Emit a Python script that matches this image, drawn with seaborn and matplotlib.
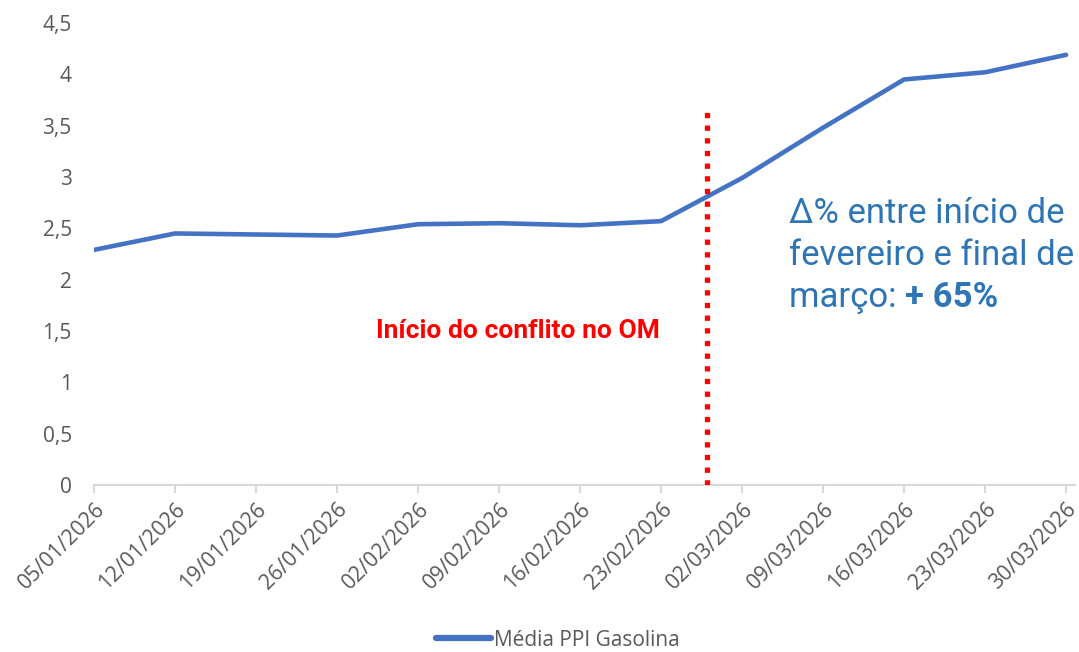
import matplotlib
matplotlib.use("Agg")
import matplotlib.pyplot as plt
import seaborn as sns
import pandas as pd
from matplotlib.lines import Line2D

dates = ["05/01/2026", "12/01/2026", "19/01/2026", "26/01/2026", "02/02/2026",
         "09/02/2026", "16/02/2026", "23/02/2026", "02/03/2026", "09/03/2026",
         "16/03/2026", "23/03/2026", "30/03/2026"]
ppi_gasolina = [2.29, 2.45, 2.44, 2.43, 2.54, 2.55, 2.53, 2.57, 2.99, 3.48, 3.95, 4.02, 4.19]
y_ticks = [0, 0.5, 1, 1.5, 2, 2.5, 3, 3.5, 4, 4.5]
y_tick_labels = ["0", "0,5", "1", "1,5", "2", "2,5", "3", "3,5", "4", "4,5"]
conflict_pos = 7.57
conflict_top = 3.65
note_lines = ["Δ% entre início de", "fevereiro e final de", "março: "]
note_bold = "+ 65%"

sns.set_theme(style="white")
plt.rcParams['font.family'] = ['Open Sans', 'DejaVu Sans']

df = pd.DataFrame({"idx": range(len(dates)), "valor": ppi_gasolina})

fig = plt.figure(figsize=(10.79, 6.52), dpi=100)
ax = fig.add_axes([94/1079, 1-485/652, (1075-94)/1079, (485-23)/652])

blue = "#4472C4"
sns.lineplot(data=df, x="idx", y="valor", ax=ax, color=blue, linewidth=3.3,
             solid_capstyle="round", legend=False)

ax.set_xlim(0, 12.11)
ax.set_ylim(0, 4.5)
ax.set_xticks(range(len(dates)))
ax.set_xticklabels(dates, rotation=45, ha="right", rotation_mode="anchor",
                   fontsize=15.3, color="#595959")
ax.set_yticks(y_ticks)
ax.set_yticklabels(y_tick_labels, fontsize=15, color="#595959")
ax.set_xlabel("")
ax.set_ylabel("")

for s in ["top", "right", "left"]:
    ax.spines[s].set_visible(False)
ax.spines["bottom"].set_color("#D9D9D9")
ax.spines["bottom"].set_linewidth(1.5)
ax.tick_params(axis="x", which="both", bottom=True, length=6, width=1.5,
               color="#D9D9D9", pad=4)
ax.tick_params(axis="y", length=0, pad=16)
ax.grid(False)

# conflict marker
ax.plot([conflict_pos, conflict_pos], [0, conflict_top], color="#FF0000",
        linewidth=3.8, linestyle=(0, (1.0, 1.4)), dash_capstyle="butt", zorder=3)

ax.text(5.23, 1.432, "Início do conflito no OM", color="#FF0000", fontsize=19,
        fontweight="bold", family=["Roboto", "DejaVu Sans"], ha="center", va="baseline")

note_color = "#2E75B6"
note_x = 8.58
note_y = [2.552, 2.143, 1.734]
last = None
for txt, yy in zip(note_lines, note_y):
    last = ax.text(note_x, yy, txt, color=note_color, fontsize=25,
                   family=["Roboto", "DejaVu Sans"], ha="left", va="baseline")
fig.canvas.draw()
bb = last.get_window_extent()
x_end = ax.transData.inverted().transform((bb.x1, bb.y0))[0]
ax.text(x_end, note_y[-1], note_bold, color=note_color, fontsize=25, fontweight="bold",
        family=["Roboto", "DejaVu Sans"], ha="left", va="baseline")

handle = Line2D([0], [0], color=blue, linewidth=4.5, solid_capstyle="round")
fig.legend([handle], ["Média PPI Gasolina"], loc="center", bbox_to_anchor=(558/1079, 1-640/652),
           frameon=False, fontsize=15, handlelength=2.6, handletextpad=0.15,
           labelcolor="#595959")

fig.savefig("out.png", dpi=100)
